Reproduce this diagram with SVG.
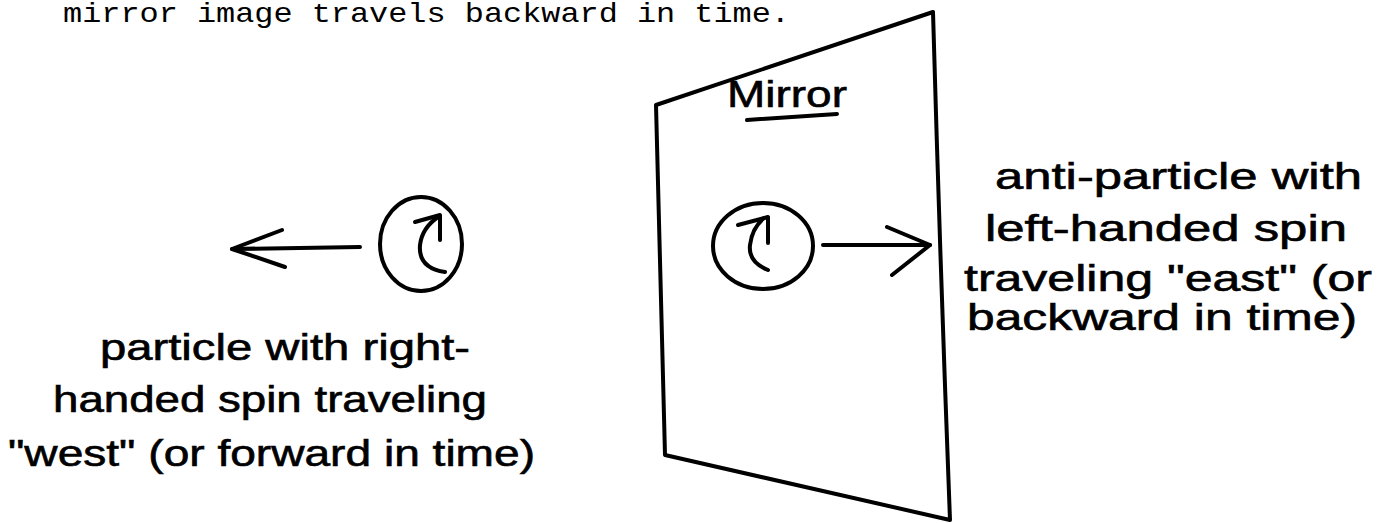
<svg xmlns="http://www.w3.org/2000/svg" width="1380" height="523" viewBox="0 0 1380 523">
<style>
.ink{fill:none;stroke:#000;stroke-width:4;stroke-linecap:round;stroke-linejoin:round}
.hand{font-family:"Liberation Sans","Noto Sans",sans-serif;font-size:36px;fill:#000;stroke:#000;stroke-width:0.6}
.type{font-family:"Liberation Mono","DejaVu Sans Mono",monospace;font-size:28px;fill:#000}
</style>
<rect width="1380" height="523" fill="#fff"/>
<text class="type" x="63" y="22" textLength="727" lengthAdjust="spacingAndGlyphs">mirror image travels backward in time.</text>
<g id="mirror">
<path class="ink" d="M656,105 L933,12 Q940,260 950,520 L665,455 Q660,280 656,105 Z"/>
<text class="hand" x="727" y="107" font-size="29" textLength="120" lengthAdjust="spacingAndGlyphs">Mirror</text>
<path class="ink" d="M747,120 L837,114"/>
</g>
<g id="particle">
<ellipse class="ink" cx="421" cy="244" rx="41" ry="47"/>
<path class="ink" d="M445,272 Q418,268 420,245 Q422,228 438,217"/>
<path class="ink" d="M415,222 L440,215 L440,240"/>
</g>
<g id="antiparticle">
<ellipse class="ink" cx="763" cy="246" rx="50" ry="43"/>
<path class="ink" d="M768,270 Q748,262 750,245 Q752,228 764,218"/>
<path class="ink" d="M738,225 L768,217 L768,243"/>
</g>
<g id="connectors">
<path class="ink" d="M360,247 L232,249"/>
<path class="ink" d="M282,230 L232,249 L285,267"/>
<path class="ink" d="M823,245 L930,245"/>
<path class="ink" d="M887,227 L930,245 L892,275"/>
</g>
<g id="label-particle">
<text class="hand" x="100" y="360" textLength="370" lengthAdjust="spacingAndGlyphs">particle with right-</text>
<text class="hand" x="53" y="412" textLength="434" lengthAdjust="spacingAndGlyphs">handed spin traveling</text>
<text class="hand" x="8" y="466" textLength="527" lengthAdjust="spacingAndGlyphs">"west" (or forward in time)</text>
</g>
<g id="label-antiparticle">
<text class="hand" x="995" y="189" textLength="367" lengthAdjust="spacingAndGlyphs">anti-particle with</text>
<text class="hand" x="985" y="241" textLength="362" lengthAdjust="spacingAndGlyphs">left-handed spin</text>
<text class="hand" x="964" y="291" textLength="408" lengthAdjust="spacingAndGlyphs">traveling "east" (or</text>
<text class="hand" x="967" y="330" textLength="390" lengthAdjust="spacingAndGlyphs">backward in time)</text>
</g>
</svg>
